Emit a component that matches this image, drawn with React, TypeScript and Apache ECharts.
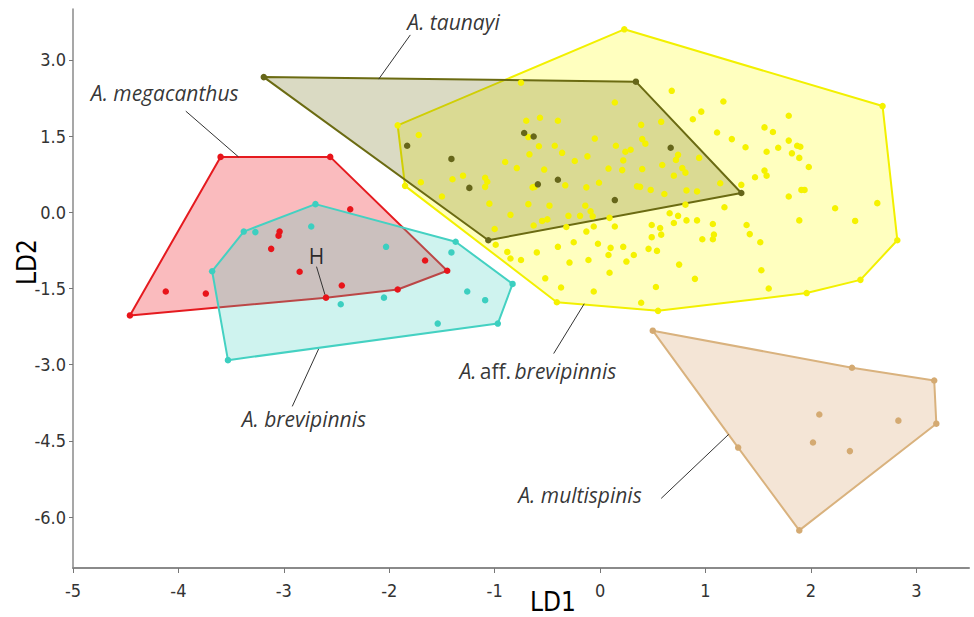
import React, { useEffect, useRef } from "react";
import * as echarts from "echarts";

// ---- Data (LD1, LD2) ----
const megacanthusHull: number[][] = [
  [-3.6, 1.09], [-2.56, 1.09], [-1.45, -1.15], [-1.92, -1.52], [-2.6, -1.68], [-4.46, -2.03],
];
const megacanthusPts: number[][] = [
  [-2.37, 0.06], [-3.04, -0.38], [-3.05, -0.46], [-3.12, -0.72], [-2.85, -1.17],
  [-1.66, -0.95], [-2.45, -1.44], [-4.12, -1.56], [-3.74, -1.6],
];
const brevipinnisHull: number[][] = [
  [-2.7, 0.16], [-1.37, -0.58], [-0.83, -1.41], [-0.97, -2.19], [-3.53, -2.91], [-3.68, -1.16], [-3.38, -0.38],
];
const brevipinnisPts: number[][] = [
  [-3.27, -0.39], [-2.74, -0.28], [-2.03, -0.68], [-1.41, -0.79], [-1.26, -1.56],
  [-1.09, -1.73], [-1.54, -2.19], [-2.05, -1.68], [-2.46, -1.81],
];
const taunayiHull: number[][] = [
  [-3.19, 2.66], [0.34, 2.57], [1.34, 0.38], [-1.06, -0.55],
];
const taunayiPts: number[][] = [
  [-1.83, 1.31], [-1.41, 1.05], [-1.24, 0.48], [-0.72, 1.56], [-0.63, 1.49],
  [-0.59, 0.55], [-0.4, 0.64], [0.14, 0.24], [0.67, 1.27],
];
const affBrevipinnisHull: number[][] = [
  [-1.92, 1.71], [0.23, 3.6], [2.68, 2.09], [2.82, -0.55], [2.47, -1.33],
  [1.96, -1.59], [0.55, -1.94], [-0.41, -1.77], [-1.85, 0.52],
];
const affBrevipinnisPts: number[][] = [
  [-0.75, 2.55], [0.14, 2.16], [-1.72, 1.52], [-0.7, 1.8], [-0.57, 1.86], [-0.4, 1.8], [0.39, 1.72],
  [-0.68, 1.48], [-0.05, 1.45], [0.4, 1.44], [-0.58, 1.3], [-0.43, 1.31], [0.15, 1.31], [0.24, 1.19],
  [0.29, 1.23], [-0.67, 1.14], [-0.36, 1.17], [-0.12, 1.1], [0.22, 1.02], [-0.9, 0.99], [-0.24, 1.01],
  [-0.79, 0.87], [-0.53, 0.84], [0.08, 0.86], [0.21, 0.83], [0.4, 0.85], [-1.7, 0.59], [-1.4, 0.65],
  [-1.3, 0.72], [-1.09, 0.68], [-1.07, 0.6], [-1.09, 0.5], [-0.33, 0.53], [-0.13, 0.49], [-0.01, 0.58],
  [-0.64, 0.49], [-0.62, 0.5], [0.35, 0.51], [0.38, 0.5], [-1.5, 0.31], [-1.05, 0.17], [-0.68, 0.16],
  [-0.48, 0.13], [-0.85, -0.05], [-0.3, -0.07], [-0.19, -0.07], [-0.14, 0.13], [-0.09, 0.02],
  [-0.07, -0.08], [-0.55, -0.17], [-0.5, -0.14], [-0.63, -0.26], [-0.32, -0.29], [-1.0, -0.33],
  [-0.13, -0.38], [-0.06, -0.28], [0.09, -0.11], [0.14, -0.28], [-0.99, -0.64], [-0.88, -0.78],
  [-0.85, -0.91], [-0.75, -0.94], [-0.6, -0.79], [-0.4, -0.68], [-0.25, -0.59], [-0.02, -0.62],
  [0.1, -0.7], [0.08, -0.84], [0.22, -0.68], [0.32, -0.84], [0.25, -0.97], [-0.29, -0.99],
  [-0.11, -0.94], [-0.52, -1.3], [-0.37, -1.48], [-0.06, -1.56], [0.09, -1.19], [0.39, -1.78],
  [0.68, 2.39], [1.17, 2.18], [0.96, 1.98], [0.88, 1.83], [0.58, 1.78], [1.79, 1.9], [1.56, 1.67],
  [1.64, 1.58], [1.11, 1.57], [1.25, 1.44], [1.38, 1.28], [1.79, 1.41], [1.87, 1.31], [1.9, 1.29],
  [1.58, 1.19], [1.69, 1.27], [1.82, 1.16], [1.89, 1.07], [1.98, 0.89], [1.56, 0.82], [1.58, 0.72],
  [1.47, 0.69], [0.43, 1.35], [0.74, 1.13], [0.72, 1.03], [0.59, 0.93], [0.94, 1.07], [0.78, 0.87],
  [0.81, 0.78], [0.7, 0.72], [1.14, 0.57], [1.34, 0.54], [0.48, 0.44], [0.61, 0.36], [0.82, 0.43],
  [0.92, 0.41], [1.79, 0.31], [1.91, 0.44], [1.94, 0.44], [0.81, 0.15], [1.18, 0.1], [0.66, -0.02],
  [0.74, -0.07], [0.7, -0.21], [0.82, -0.16], [0.92, -0.16], [1.07, -0.23], [0.49, -0.25],
  [0.57, -0.31], [0.58, -0.44], [0.49, -0.49], [1.08, -0.44], [1.07, -0.53], [0.97, -0.53],
  [1.39, -0.25], [1.42, -0.43], [1.52, -0.59], [0.46, -0.72], [0.54, -0.76], [0.75, -1.03],
  [0.9, -1.31], [0.53, -1.47], [1.53, -1.14], [1.6, -1.5], [2.23, 0.08], [2.63, 0.18],
  [1.89, -0.16], [2.42, -0.17],
];
const multispinisHull: number[][] = [
  [0.5, -2.33], [2.39, -3.06], [3.17, -3.31], [3.19, -4.16], [1.89, -6.26], [1.31, -4.63],
];
const multispinisPts: number[][] = [
  [2.08, -3.98], [2.83, -4.1], [2.02, -4.53], [2.37, -4.7],
];

const xTicks = [-5, -4, -3, -2, -1, 0, 1, 2, 3];
const yTicks = [-6, -4.5, -3, -1.5, 0, 1.5, 3];

// labels: [x, y, text]
const speciesLabels: [number, number, string][] = [
  [-1.39, 3.74, "{i|A. taunayi}"],
  [-4.13, 2.35, "{i|A. megacanthus}"],
  [-2.69, -0.87, "{h|H}"],
  [-2.81, -4.06, "{i|A. brevipinnis}"],
  [-0.59, -3.13, "{i|A.} {n|aff.} {i|brevipinnis}"],
  [-0.19, -5.57, "{i|A. multispinis}"],
];
const leaderLines: number[][][] = [
  [[-1.8, 3.49], [-2.1, 2.62]],
  [[-3.93, 1.99], [-3.43, 1.09]],
  [[-2.69, -1.07], [-2.61, -1.62]],
  [[-2.92, -3.82], [-2.67, -2.69]],
  [[-0.44, -2.78], [-0.15, -1.8]],
  [[0.58, -5.63], [1.22, -4.37]],
];

const groups = [
  { name: "A. aff. brevipinnis", hull: affBrevipinnisHull, pts: affBrevipinnisPts, stroke: "#f2f000", fill: "rgba(255,255,0,0.25)", dot: "#f5f200" },
  { name: "A. taunayi", hull: taunayiHull, pts: taunayiPts, stroke: "#6b6b12", fill: "rgba(107,107,16,0.25)", dot: "#66661a" },
  { name: "A. megacanthus", hull: megacanthusHull, pts: megacanthusPts, stroke: "#e51a1f", fill: "rgba(240,30,40,0.3)", dot: "#e8141a" },
  { name: "A. brevipinnis", hull: brevipinnisHull, pts: brevipinnisPts, stroke: "#44d1c2", fill: "rgba(64,208,192,0.25)", dot: "#3ccfc0" },
  { name: "A. multispinis", hull: multispinisHull, pts: multispinisPts, stroke: "#d9b27e", fill: "rgba(220,170,120,0.3)", dot: "#d4aa72" },
];

const FONT = "'Open Sans', 'Noto Sans', sans-serif";
const AXFONT = "'Liberation Sans Narrow', 'DejaVu Sans Condensed', sans-serif";

export default function App() {
  const ref = useRef<HTMLDivElement>(null);
  useEffect(() => {
    document.body.style.margin = "0";
    const chart = echarts.init(ref.current!, null, { renderer: "svg" });
    const polySeries = groups.map((g) => ({
      type: "custom",
      name: g.name + " hull",
      silent: true,
      z: 1,
      data: [[g.hull[0][0], g.hull[0][1]]],
      renderItem: (_p: any, api: any) => ({
        type: "polygon",
        shape: { points: g.hull.map((p) => api.coord(p)) },
        style: { fill: g.fill, stroke: g.stroke, lineWidth: 2, lineJoin: "round" },
      }),
    }));
    const dotSeries = groups.map((g) => ({
      type: "scatter",
      name: g.name,
      z: 3,
      symbolSize: 6.5,
      itemStyle: { color: g.dot, opacity: 1 },
      data: [...g.hull, ...g.pts],
    }));
    chart.setOption({
      animation: false,
      grid: { left: 73, right: 5, top: 9, bottom: 49, containLabel: false },
      xAxis: {
        type: "value",
        min: -5,
        max: 3.5,
        axisLine: { show: true, onZero: false, lineStyle: { color: "#8a8a8a", width: 2 } },
        axisTick: { show: true, length: 5, customValues: xTicks, lineStyle: { color: "#777" } },
        axisLabel: {
          customValues: xTicks,
          color: "#333",
          fontSize: 18,
          fontFamily: AXFONT,
          margin: 13,
        },
        splitLine: { show: false },
      },
      yAxis: {
        type: "value",
        min: -7,
        max: 4,
        axisLine: { show: true, onZero: false, lineStyle: { color: "#8a8a8a", width: 1.5 } },
        axisTick: { show: true, length: 4, customValues: yTicks, lineStyle: { color: "#777" } },
        axisLabel: {
          customValues: yTicks,
          color: "#333",
          fontSize: 18,
          fontFamily: AXFONT,
          margin: 7,
          formatter: (v: number) => v.toFixed(1),
        },
        splitLine: { show: false },
      },
      graphic: [
        { type: "text", x: 553, y: 602, style: { text: "LD1", fontSize: 26, fontFamily: AXFONT, fill: "#000", align: "center", verticalAlign: "middle" } },
        { type: "text", x: 27, y: 262, rotation: Math.PI / 2, style: { text: "LD2", fontSize: 26, fontFamily: AXFONT, fill: "#000", align: "center", verticalAlign: "middle" } },
      ],
      series: [
        ...polySeries,
        ...dotSeries,
        {
          type: "lines",
          coordinateSystem: "cartesian2d",
          silent: true,
          z: 4,
          lineStyle: { color: "#333", width: 1, opacity: 1 },
          data: leaderLines.map((c) => ({ coords: c })),
        },
        {
          type: "scatter",
          name: "labels",
          silent: true,
          z: 5,
          symbolSize: 1,
          itemStyle: { color: "transparent" },
          data: speciesLabels.map((l) => ({ value: [l[0], l[1]], name: l[2] })),
          label: {
            show: true,
            position: "inside",
            formatter: (p: any) => p.name,
            rich: {
              i: { fontStyle: "italic", fontSize: 21, fontFamily: FONT, color: "#000" },
              n: { fontStyle: "normal", fontSize: 21, fontFamily: FONT, color: "#000" },
              h: { fontStyle: "normal", fontSize: 21, fontFamily: FONT, color: "#000" },
            },
          },
        },
      ],
    });
    return () => chart.dispose();
  }, []);
  return <div ref={ref} style={{ position: "absolute", left: 0, top: 0, width: 974, height: 617 }} />;
}
